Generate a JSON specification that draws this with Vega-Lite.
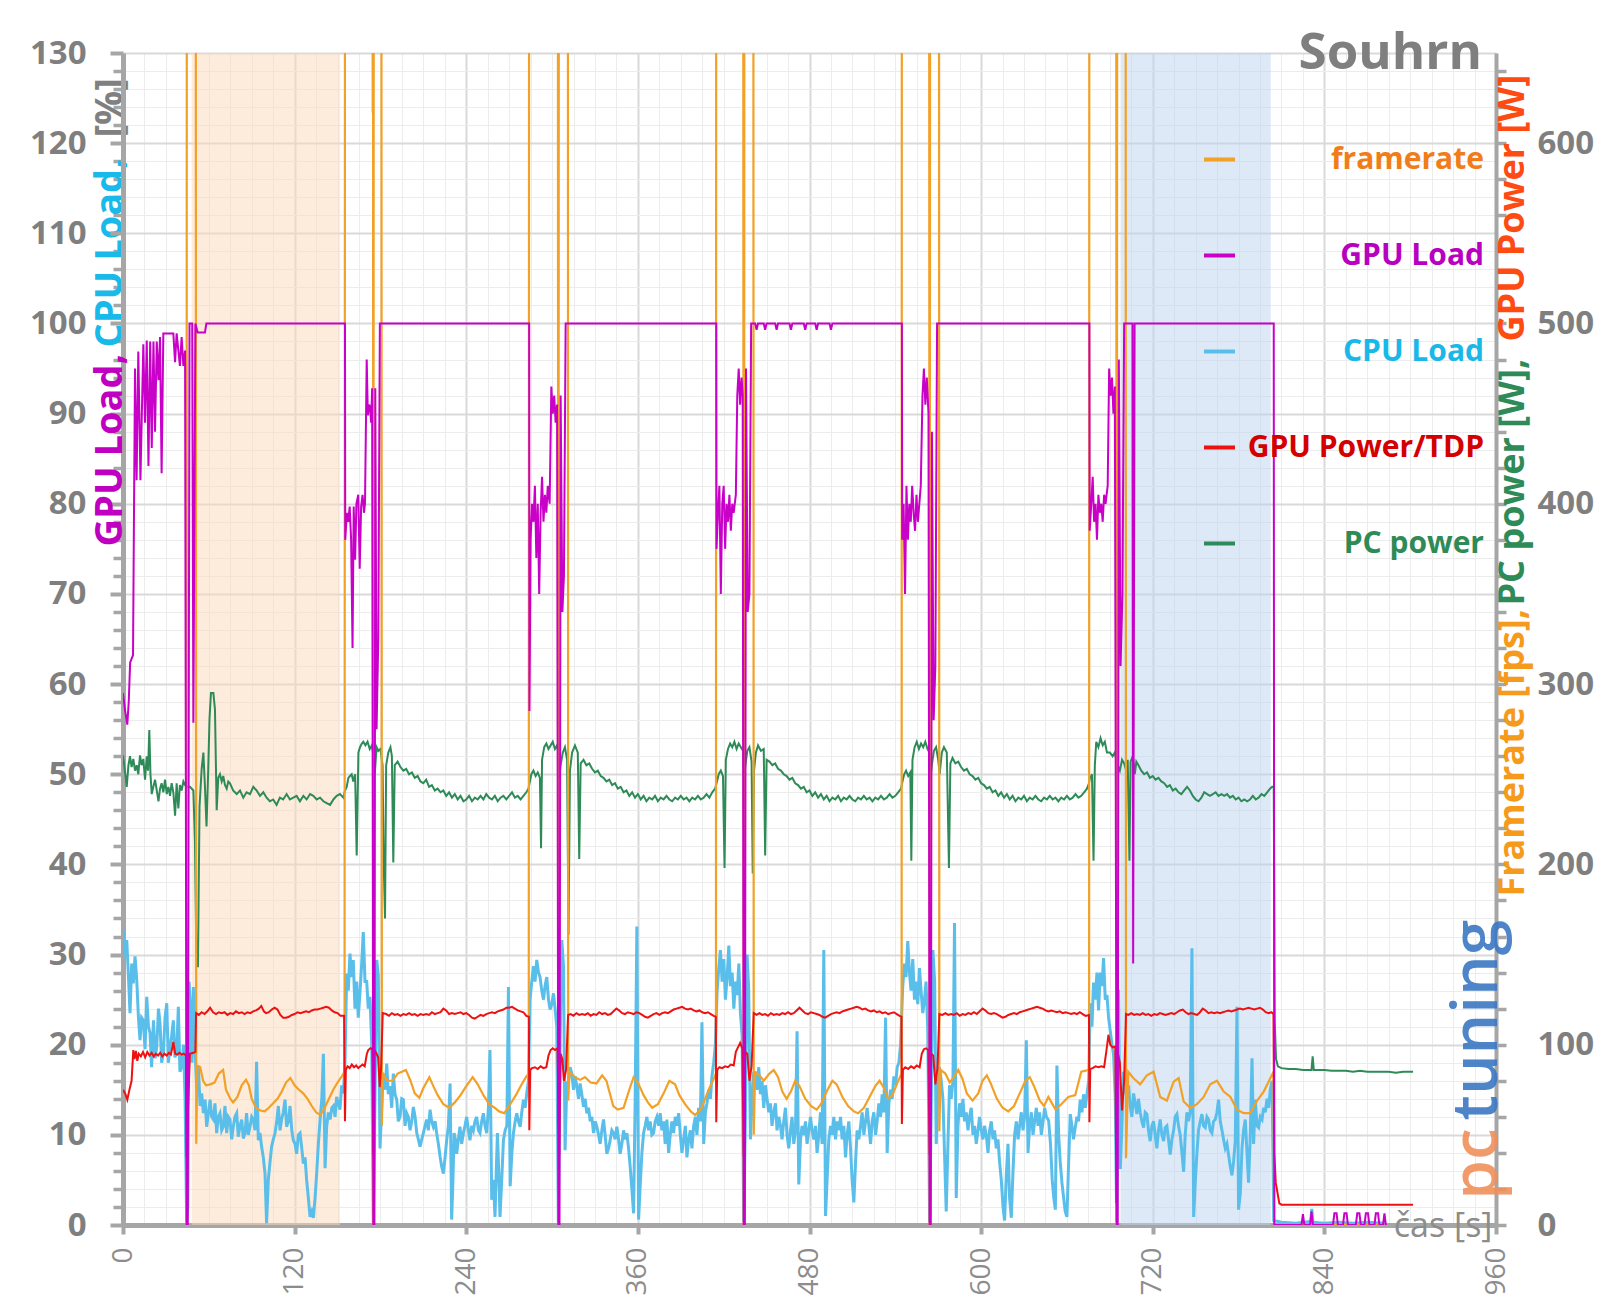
{
"$schema":"https://vega.github.io/schema/vega-lite/v6.json",
"width":1373,"height":1172,
"autosize":{"type":"none"},
"padding":{"left":123,"top":53,"right":104,"bottom":88},
"background":"white",
"config":{"view":{"stroke":null},"font":"Open Sans"},
"title":{"text":"Souhrn","anchor":"end","frame":"group","font":"Open Sans","fontSize":51,"fontWeight":"bold","color":"#7f7f7f","baseline":"alphabetic","offset":0,"dx":-14,"dy":83},
"datasets":{
"bands":[{"s":48,"e":151.7,"k":"o"},{"s":697.5,"e":802.5,"k":"b"}],
"gpu":[{"t":0,"v":59},{"t":1.5,"v":57},{"t":3,"v":55.5},{"t":4,"v":58},{"t":5,"v":62.4},{"t":7,"v":63.2},{"t":7.6,"v":77},{"t":8.4,"v":95},{"t":9.5,"v":82.6},{"t":10.7,"v":96.9},{"t":12.2,"v":82.6},{"t":14.2,"v":97.7},{"t":15.4,"v":89},{"t":16.6,"v":98.1},{"t":17.8,"v":84.2},{"t":19,"v":98},{"t":20.1,"v":86.2},{"t":21.3,"v":98},{"t":22.4,"v":88},{"t":23.6,"v":98},{"t":24.8,"v":93.7},{"t":25.9,"v":98.5},{"t":27,"v":83.4},{"t":28.2,"v":98.9},{"t":32.9,"v":98.9},{"t":35.2,"v":98.9},{"t":36.4,"v":95.7},{"t":37.5,"v":98.9},{"t":39.8,"v":95.3},{"t":41,"v":98.5},{"t":42.2,"v":95.3},{"t":43.4,"v":97},{"t":44.5,"v":0},{"t":45.3,"v":0},{"t":46.5,"v":100},{"t":48.4,"v":100},{"t":49.2,"v":55.7},{"t":50.6,"v":100},{"t":52.2,"v":99},{"t":57.3,"v":99},{"t":58.3,"v":100},
{"t":155.2,"v":100},{"t":155.4,"v":76},{"t":156.5,"v":79},{"t":157.5,"v":78},{"t":158.5,"v":79.7},{"t":159.5,"v":76},{"t":160.5,"v":64},{"t":161.3,"v":79.7},{"t":162.3,"v":73.8},{"t":163.2,"v":80},{"t":164.5,"v":81},{"t":165.5,"v":72.8},{"t":166.5,"v":79.7},{"t":167.5,"v":81},{"t":168.5,"v":79},{"t":169.2,"v":80},{"t":170.4,"v":96},{"t":171.2,"v":89.8},{"t":172.1,"v":91},{"t":172.7,"v":90.7},{"t":173.5,"v":89},{"t":174.2,"v":92.8},{"t":175,"v":0},{"t":175.8,"v":0},{"t":176.4,"v":92.8},{"t":177.3,"v":55},{"t":178.5,"v":65},{"t":179.6,"v":100},
{"t":284,"v":100},{"t":284.2,"v":57},{"t":285,"v":76},{"t":286,"v":80},{"t":287,"v":78},{"t":288,"v":82},{"t":289,"v":74},{"t":290,"v":80},{"t":291,"v":70},{"t":292,"v":79},{"t":293,"v":83},{"t":294,"v":78},{"t":295,"v":81},{"t":296,"v":79},{"t":297,"v":82},{"t":298.3,"v":80},{"t":299.5,"v":93},{"t":300.5,"v":90},{"t":301.5,"v":92},{"t":302.5,"v":89},{"t":303.5,"v":91},{"t":304.4,"v":0},{"t":305.2,"v":0},{"t":306,"v":92},{"t":307.2,"v":68},{"t":308.3,"v":72},{"t":309.5,"v":100},
{"t":414.8,"v":100},{"t":415,"v":75},{"t":416,"v":79},{"t":417,"v":82},{"t":418,"v":70},{"t":419,"v":80},{"t":420,"v":82},{"t":421,"v":75},{"t":422,"v":80},{"t":423,"v":78},{"t":424,"v":81},{"t":425,"v":77},{"t":426,"v":80},{"t":427,"v":79},{"t":428.5,"v":81},{"t":429.5,"v":92},{"t":430.5,"v":95},{"t":431.5,"v":91},{"t":432.5,"v":94},{"t":433.3,"v":92},{"t":434,"v":0},{"t":434.8,"v":0},{"t":435.6,"v":95},{"t":436.8,"v":68},{"t":438,"v":70},{"t":439.2,"v":100},{"t":442,"v":100},{"t":443,"v":99.3},{"t":444,"v":100},{"t":448,"v":100},{"t":449,"v":99.3},{"t":450,"v":100},{"t":456,"v":100},{"t":457,"v":99.3},{"t":458,"v":100},{"t":466,"v":100},{"t":467,"v":99.3},{"t":468,"v":100},{"t":476,"v":100},{"t":477,"v":99.3},{"t":478,"v":100},{"t":484,"v":100},{"t":485,"v":99.3},{"t":486,"v":100},{"t":494,"v":100},{"t":495,"v":99.3},{"t":496,"v":100},
{"t":544.6,"v":100},{"t":544.8,"v":76},{"t":545.8,"v":80},{"t":546.8,"v":70},{"t":547.8,"v":82},{"t":548.8,"v":76},{"t":549.8,"v":80},{"t":550.8,"v":78},{"t":551.8,"v":82},{"t":552.8,"v":79},{"t":553.8,"v":77},{"t":554.8,"v":81},{"t":555.8,"v":78},{"t":556.8,"v":80},{"t":557.8,"v":82},{"t":559,"v":92},{"t":560,"v":95},{"t":561,"v":91},{"t":562,"v":94},{"t":563.2,"v":90},{"t":564,"v":0},{"t":564.8,"v":0},{"t":565.6,"v":88},{"t":566.8,"v":56},{"t":568,"v":62},{"t":569.2,"v":100},
{"t":675.7,"v":100},{"t":675.9,"v":77},{"t":677,"v":80},{"t":678,"v":83},{"t":679,"v":78},{"t":680,"v":80},{"t":681,"v":76},{"t":682,"v":81},{"t":683,"v":79},{"t":684,"v":80},{"t":685,"v":78},{"t":686,"v":81},{"t":687,"v":80},{"t":688.5,"v":82},{"t":689.5,"v":95},{"t":690.5,"v":92},{"t":691.5,"v":94},{"t":692.5,"v":90},{"t":693.5,"v":93},{"t":694.8,"v":0},{"t":695.5,"v":0},{"t":696.3,"v":96},{"t":697.5,"v":62},{"t":698.8,"v":70},{"t":700,"v":100},{"t":705.8,"v":100},{"t":706.3,"v":29},{"t":707.3,"v":100},{"t":804.6,"v":100},{"t":805,"v":0},
{"t":824,"v":0},{"t":825,"v":1.2},{"t":826,"v":0},{"t":830,"v":0},{"t":831,"v":1.5},{"t":832,"v":0},{"t":846,"v":0},{"t":847,"v":1.3},{"t":848.5,"v":1.3},{"t":849.5,"v":0},{"t":853,"v":0},{"t":854,"v":1.3},{"t":855.5,"v":1.3},{"t":856.5,"v":0},{"t":862,"v":0},{"t":863,"v":1.3},{"t":864.5,"v":1.3},{"t":865.5,"v":0},{"t":868,"v":0},{"t":869,"v":1.3},{"t":870.5,"v":1.3},{"t":871.5,"v":0},{"t":875,"v":0},{"t":876,"v":1.3},{"t":877.5,"v":1.3},{"t":878.5,"v":0},{"t":881,"v":0},{"t":882,"v":1.3},{"t":883,"v":0}],
"cpu":[{"t":0,"v":32.7},{"t":1.4,"v":29.8},{"t":2.6,"v":31.6},{"t":3.7,"v":28},{"t":4.9,"v":23.5},{"t":6.1,"v":29},{"t":7.2,"v":26.8},{"t":8.4,"v":29.8},{"t":9.6,"v":27.2},{"t":10.8,"v":23},{"t":11.9,"v":20.5},{"t":13,"v":23},{"t":14.2,"v":22.7},{"t":15.4,"v":19.5},{"t":16.6,"v":25.3},{"t":17.8,"v":22},{"t":18.9,"v":21.3},{"t":20,"v":17.5},{"t":21.3,"v":22.7},{"t":22.5,"v":18.5},{"t":23.6,"v":19.8},{"t":24.8,"v":24},{"t":25.9,"v":22.4},{"t":27,"v":18},{"t":28.2,"v":19},{"t":29.4,"v":23},{"t":30.6,"v":24.6},{"t":31.7,"v":18},{"t":32.9,"v":19.8},{"t":34,"v":21},{"t":35.2,"v":22.7},{"t":36.3,"v":18.6},{"t":37.5,"v":19.1},{"t":38.7,"v":24.2},{"t":39.8,"v":17},{"t":41.1,"v":17.6},{"t":42.3,"v":20},{"t":43.4,"v":14},{"t":44.5,"v":0.5},{"t":45.3,"v":2},{"t":46.2,"v":27},{"t":47.2,"v":24},{"t":48.2,"v":18},{"t":49.2,"v":26.4},{"t":50.2,"v":20},{"t":51.5,"v":15.3},{"t":52.7,"v":17.6},{"t":53.9,"v":13.2},{"t":55,"v":14.6},{"t":56.2,"v":12.4},{"t":57.4,"v":13.9},{"t":58.5,"v":10.9},{"t":59.7,"v":12.4},{"t":60.9,"v":13.9},{"t":62,"v":12},{"t":63.2,"v":11.7},{"t":64.3,"v":13.5},{"t":65.5,"v":10.2},{"t":66.6,"v":12},{"t":67.8,"v":12.4},{"t":69,"v":10.5},{"t":70.1,"v":10.9},{"t":71.3,"v":13.2},{"t":72.5,"v":10.2},{"t":73.6,"v":12},{"t":74.8,"v":11.7},{"t":76,"v":9.5},{"t":77.1,"v":10.9},{"t":78.3,"v":12},{"t":79.5,"v":12.4},{"t":80.6,"v":9.8},{"t":81.8,"v":11},{"t":83,"v":11.7},{"t":84.1,"v":9.6},{"t":85.3,"v":10.2},{"t":86.4,"v":12.4},{"t":87.6,"v":10},{"t":88.8,"v":10.9},{"t":90,"v":12},{"t":91.1,"v":11.7},{"t":92.3,"v":10.5},{"t":93.4,"v":18.1},{"t":94.6,"v":9.4},{"t":95.8,"v":10.2},{"t":96.9,"v":8.7},{"t":98.1,"v":7.5},{"t":99.3,"v":5.7},{"t":100.4,"v":0.2},{"t":101.6,"v":5},{"t":102.8,"v":7},{"t":103.9,"v":8.7},{"t":105.1,"v":9.5},{"t":106.3,"v":10.2},{"t":107.5,"v":11.5},{"t":108.6,"v":13.2},{"t":109.8,"v":10.5},{"t":110.9,"v":11.7},{"t":112.1,"v":12.5},{"t":113.3,"v":13.9},{"t":114.4,"v":10.9},{"t":115.6,"v":11.5},{"t":116.8,"v":13.2},{"t":118,"v":10.5},{"t":119.1,"v":9.4},{"t":120.3,"v":9},{"t":121.4,"v":7.9},{"t":122.6,"v":10},{"t":123.8,"v":10.2},{"t":125,"v":8.5},{"t":126.1,"v":6.8},{"t":127.3,"v":7.5},{"t":128.4,"v":5},{"t":129.6,"v":3},{"t":130.8,"v":0.9},{"t":132,"v":1.5},{"t":133.1,"v":0.8},{"t":134.3,"v":3},{"t":135.4,"v":5.7},{"t":136.6,"v":9},{"t":137.8,"v":11.7},{"t":139,"v":14},{"t":140.1,"v":19},{"t":141.3,"v":6.3},{"t":142.4,"v":10.9},{"t":143.6,"v":12.5},{"t":144.8,"v":11.7},{"t":146,"v":13},{"t":147.1,"v":13.2},{"t":148.3,"v":12},{"t":149.4,"v":14.2},{"t":150.6,"v":13.5},{"t":151.7,"v":12.8},{"t":152.9,"v":15.5},{"t":154.1,"v":14.6},
{"t":155.2,"v":18},{"t":156.4,"v":27.9},{"t":157.5,"v":26},{"t":158.7,"v":30.1},{"t":159.8,"v":27.5},{"t":161,"v":29.4},{"t":162.2,"v":24},{"t":163.4,"v":27},{"t":164.5,"v":23},{"t":165.7,"v":25.8},{"t":166.9,"v":29},{"t":168,"v":32.5},{"t":169.2,"v":27},{"t":170.4,"v":27},{"t":171.5,"v":24},{"t":172.7,"v":25.3},{"t":173.9,"v":20},{"t":175,"v":0.3},{"t":176.2,"v":14},{"t":177.4,"v":29.4},{"t":178.5,"v":27.7},{"t":179.7,"v":8.5},{"t":180.9,"v":13},
{"t":182,"v":16.8},{"t":183.2,"v":15},{"t":184.4,"v":17.9},{"t":185.5,"v":14.5},{"t":186.7,"v":15.4},{"t":187.9,"v":13},{"t":189,"v":16.8},{"t":190.2,"v":14.5},{"t":191.4,"v":13.9},{"t":192.5,"v":11.5},{"t":193.7,"v":12},{"t":194.9,"v":14},{"t":196,"v":13.9},{"t":197.2,"v":11},{"t":198.4,"v":12.4},{"t":199.5,"v":12},{"t":200.7,"v":10.5},{"t":201.9,"v":11.5},{"t":203,"v":13.1},{"t":204.2,"v":12},{"t":205.4,"v":10.2},{"t":206.5,"v":9.5},{"t":207.7,"v":8.7},{"t":208.9,"v":9.5},{"t":210,"v":10.2},{"t":211.2,"v":11},{"t":212.3,"v":11.7},{"t":213.5,"v":10.5},{"t":214.7,"v":12.8},{"t":215.8,"v":11.5},{"t":217,"v":10.9},{"t":218.2,"v":11.5},{"t":219.3,"v":10.2},{"t":220.5,"v":9},{"t":221.7,"v":7.6},{"t":222.8,"v":6.5},{"t":224,"v":5.7},{"t":225.2,"v":7.5},{"t":226.3,"v":9.4},{"t":227.5,"v":11},{"t":228.7,"v":15.7},{"t":229.8,"v":0.6},{"t":230.7,"v":5},{"t":231.5,"v":10.2},{"t":232.4,"v":9.5},{"t":233.3,"v":7.9},{"t":234.5,"v":9.5},{"t":235.6,"v":10.9},{"t":236.8,"v":9},{"t":238,"v":10.2},{"t":239.1,"v":11},{"t":240.3,"v":12},{"t":241.5,"v":10.5},{"t":242.6,"v":9.4},{"t":243.8,"v":11},{"t":245,"v":10.5},{"t":246.1,"v":11.5},{"t":247.3,"v":12},{"t":248.5,"v":10.5},{"t":249.6,"v":10.2},{"t":250.8,"v":11.5},{"t":252,"v":12.4},{"t":253.1,"v":11},{"t":254.3,"v":10.2},{"t":255.5,"v":13},{"t":256.6,"v":19.4},{"t":257.8,"v":2.8},{"t":259,"v":5},{"t":260.1,"v":0.9},{"t":261,"v":6},{"t":261.8,"v":10.2},{"t":262.7,"v":6},{"t":263.6,"v":0.9},{"t":264.8,"v":5},{"t":266,"v":9.4},{"t":267.2,"v":10.5},{"t":268.4,"v":11},{"t":269.5,"v":26.4},{"t":270.7,"v":4.3},{"t":271.9,"v":8},{"t":273,"v":10.2},{"t":274.2,"v":11.5},{"t":275.3,"v":12.4},{"t":276.5,"v":11.5},{"t":277.7,"v":10.9},{"t":278.8,"v":12.5},{"t":280,"v":13.9},{"t":281.2,"v":13},{"t":282.3,"v":14.6},{"t":283.5,"v":16},
{"t":284.6,"v":25},{"t":285.8,"v":27},{"t":287,"v":28.7},{"t":288.1,"v":27},{"t":289.3,"v":29.4},{"t":290.5,"v":28},{"t":291.6,"v":27.5},{"t":292.8,"v":26},{"t":294,"v":25},{"t":295.1,"v":26.5},{"t":296.3,"v":27.5},{"t":297.5,"v":25},{"t":298.6,"v":23.9},{"t":299.8,"v":24.5},{"t":301,"v":25.7},{"t":302.1,"v":24},{"t":303.3,"v":22},{"t":304.4,"v":0.3},{"t":305.6,"v":20},{"t":306.8,"v":31.6},{"t":308,"v":28.7},{"t":309.1,"v":8.3},{"t":310.3,"v":15.7},
{"t":311.5,"v":16},{"t":312.6,"v":17.5},{"t":313.8,"v":16.8},{"t":315,"v":15},{"t":316.1,"v":16.5},{"t":317.3,"v":15.4},{"t":318.5,"v":14},{"t":319.6,"v":15.7},{"t":320.8,"v":14.5},{"t":322,"v":13.1},{"t":323.1,"v":14},{"t":324.3,"v":12.4},{"t":325.5,"v":13},{"t":326.7,"v":11.5},{"t":327.8,"v":12},{"t":329,"v":10.2},{"t":330.2,"v":11.5},{"t":331.3,"v":10.9},{"t":332.5,"v":10},{"t":333.6,"v":9},{"t":334.8,"v":10.5},{"t":336,"v":11.7},{"t":337.1,"v":10},{"t":338.3,"v":7.9},{"t":339.5,"v":8.5},{"t":340.6,"v":9.4},{"t":341.8,"v":10.5},{"t":343,"v":10.2},{"t":344.1,"v":9.5},{"t":345.3,"v":10.9},{"t":346.5,"v":9.5},{"t":347.6,"v":7.9},{"t":348.8,"v":9},{"t":350,"v":10.5},{"t":351.1,"v":9.5},{"t":352.3,"v":10.2},{"t":353.5,"v":8.5},{"t":354.6,"v":6.5},{"t":355.8,"v":4},{"t":357,"v":1.3},{"t":358.1,"v":13.9},{"t":359.3,"v":33.1},{"t":360.5,"v":0.6},{"t":361.6,"v":4.3},{"t":362.8,"v":8},{"t":364,"v":10.2},{"t":365.1,"v":11},{"t":366.3,"v":12},{"t":367.5,"v":10.5},{"t":368.6,"v":11.5},{"t":369.8,"v":10},{"t":371,"v":10.2},{"t":372.1,"v":11.5},{"t":373.3,"v":12},{"t":374.5,"v":11},{"t":375.6,"v":12.4},{"t":376.8,"v":10.5},{"t":378,"v":11.5},{"t":379.1,"v":9},{"t":380.3,"v":11.7},{"t":381.5,"v":8},{"t":382.6,"v":10},{"t":383.8,"v":11.5},{"t":385,"v":10.2},{"t":386.1,"v":12},{"t":387.3,"v":11},{"t":388.5,"v":12.4},{"t":389.7,"v":10},{"t":390.8,"v":8},{"t":392,"v":9.5},{"t":393.2,"v":11},{"t":394.3,"v":7.5},{"t":395.5,"v":9.5},{"t":396.7,"v":10.5},{"t":397.8,"v":8.5},{"t":399,"v":11},{"t":400.2,"v":12},{"t":401.3,"v":10},{"t":402.5,"v":13},{"t":403.7,"v":11.5},{"t":404.8,"v":22.5},{"t":406,"v":9},{"t":407.2,"v":12.5},{"t":408.3,"v":13.5},{"t":409.5,"v":15},{"t":410.7,"v":14},{"t":411.8,"v":16.5},{"t":413,"v":18},{"t":414.2,"v":20},
{"t":415.4,"v":26},{"t":416.6,"v":28.5},{"t":417.7,"v":30.5},{"t":418.9,"v":27},{"t":420.1,"v":29.5},{"t":421.2,"v":25},{"t":422.4,"v":27.5},{"t":423.6,"v":31},{"t":424.7,"v":26.5},{"t":425.9,"v":28},{"t":427.1,"v":24},{"t":428.2,"v":27},{"t":429.4,"v":25.5},{"t":430.6,"v":29},{"t":431.7,"v":23.5},{"t":432.9,"v":21},{"t":434,"v":0.3},{"t":435.2,"v":12},{"t":436.4,"v":30},{"t":437.5,"v":26},{"t":438.7,"v":9.5},{"t":439.9,"v":14},{"t":441,"v":17},
{"t":442.2,"v":16.5},{"t":443.3,"v":15},{"t":444.5,"v":17.5},{"t":445.7,"v":14.5},{"t":446.8,"v":16},{"t":448,"v":13},{"t":449.2,"v":15.5},{"t":450.3,"v":14},{"t":451.5,"v":12.5},{"t":452.7,"v":13.5},{"t":453.8,"v":11},{"t":455,"v":12.5},{"t":456.2,"v":13.5},{"t":457.3,"v":10.5},{"t":458.5,"v":12},{"t":459.7,"v":11},{"t":460.8,"v":9.5},{"t":462,"v":11.5},{"t":463.2,"v":13},{"t":464.3,"v":10},{"t":465.5,"v":8.5},{"t":466.7,"v":10.5},{"t":467.8,"v":12},{"t":469,"v":9},{"t":470.2,"v":10.5},{"t":471.3,"v":21.5},{"t":472.5,"v":4.5},{"t":473.7,"v":9.5},{"t":474.8,"v":11},{"t":476,"v":10},{"t":477.2,"v":11.5},{"t":478.3,"v":9},{"t":479.5,"v":10.5},{"t":480.7,"v":12},{"t":481.8,"v":10.5},{"t":483,"v":9.5},{"t":484.2,"v":11},{"t":485.3,"v":8},{"t":486.5,"v":10},{"t":487.7,"v":12.5},{"t":488.8,"v":9},{"t":490,"v":30.5},{"t":491.2,"v":1},{"t":492.3,"v":5},{"t":493.5,"v":9.5},{"t":494.7,"v":11},{"t":495.8,"v":10},{"t":497,"v":12},{"t":498.2,"v":9.5},{"t":499.3,"v":11.5},{"t":500.5,"v":10.5},{"t":501.7,"v":12},{"t":502.8,"v":9.5},{"t":504,"v":11},{"t":505.2,"v":7.5},{"t":506.3,"v":10},{"t":507.5,"v":11.5},{"t":508.7,"v":8.5},{"t":509.8,"v":5},{"t":511,"v":2.5},{"t":512.2,"v":7},{"t":513.3,"v":10.5},{"t":514.5,"v":9.5},{"t":515.7,"v":11},{"t":516.8,"v":12.5},{"t":518,"v":10},{"t":519.2,"v":11.5},{"t":520.3,"v":13},{"t":521.5,"v":11},{"t":522.7,"v":9},{"t":523.8,"v":11.5},{"t":525,"v":12.5},{"t":526.2,"v":10},{"t":527.3,"v":11.5},{"t":528.5,"v":13.5},{"t":529.7,"v":12},{"t":530.8,"v":14.5},{"t":532,"v":12.5},{"t":533.2,"v":23},{"t":534.3,"v":8},{"t":535.5,"v":13.5},{"t":536.7,"v":15},{"t":537.8,"v":14},{"t":539,"v":16.5},{"t":540.2,"v":15.5},{"t":541.3,"v":17.5},{"t":542.5,"v":18},{"t":543.7,"v":20},
{"t":545.2,"v":26.5},{"t":546.4,"v":29},{"t":547.5,"v":27.5},{"t":548.7,"v":31.5},{"t":549.9,"v":28},{"t":551,"v":26},{"t":552.2,"v":29.5},{"t":553.4,"v":25},{"t":554.5,"v":27},{"t":555.7,"v":24.5},{"t":556.9,"v":28.5},{"t":558,"v":26},{"t":559.2,"v":23.5},{"t":560.4,"v":25},{"t":561.5,"v":27},{"t":562.7,"v":21.5},{"t":564,"v":0.3},{"t":565.1,"v":13},{"t":566.3,"v":30.5},{"t":567.5,"v":27},{"t":568.6,"v":9},{"t":569.8,"v":15},{"t":570.9,"v":17.5},
{"t":572.1,"v":16},{"t":573.3,"v":14},{"t":574.4,"v":8},{"t":575.6,"v":1.5},{"t":576.8,"v":9},{"t":577.9,"v":15.5},{"t":579.1,"v":14},{"t":580.3,"v":16},{"t":581.4,"v":33.5},{"t":582.6,"v":3},{"t":583.8,"v":11},{"t":584.9,"v":13.5},{"t":586.1,"v":12},{"t":587.3,"v":14},{"t":588.4,"v":11.5},{"t":589.6,"v":12.5},{"t":590.8,"v":10.5},{"t":591.9,"v":12},{"t":593.1,"v":13},{"t":594.3,"v":10},{"t":595.4,"v":11},{"t":596.6,"v":9},{"t":597.8,"v":10.5},{"t":598.9,"v":12},{"t":600.1,"v":10.5},{"t":601.3,"v":9.5},{"t":602.4,"v":11},{"t":603.6,"v":10},{"t":604.8,"v":8},{"t":605.9,"v":10.5},{"t":607.1,"v":11.5},{"t":608.3,"v":9.5},{"t":609.4,"v":10.5},{"t":610.6,"v":8.5},{"t":611.8,"v":9.5},{"t":612.9,"v":7},{"t":614.1,"v":5},{"t":615.3,"v":2},{"t":616.4,"v":0.5},{"t":617.6,"v":5.5},{"t":618.8,"v":9},{"t":619.9,"v":3},{"t":621.1,"v":0.8},{"t":622.3,"v":6},{"t":623.4,"v":10},{"t":624.6,"v":11.5},{"t":625.8,"v":9.5},{"t":626.9,"v":11},{"t":628.1,"v":12.5},{"t":629.3,"v":10.5},{"t":630.4,"v":12},{"t":631.6,"v":20.5},{"t":632.8,"v":8},{"t":633.9,"v":11},{"t":635.1,"v":12.5},{"t":636.3,"v":10},{"t":637.4,"v":11.5},{"t":638.6,"v":13},{"t":639.8,"v":11},{"t":640.9,"v":12.5},{"t":642.1,"v":10},{"t":643.3,"v":11.5},{"t":644.4,"v":13},{"t":645.6,"v":12},{"t":647.2,"v":11.6},{"t":648.5,"v":9},{"t":649.7,"v":5},{"t":650.8,"v":3},{"t":651.9,"v":1.7},{"t":653,"v":17.7},{"t":654.2,"v":10},{"t":655.3,"v":7},{"t":656.5,"v":4.7},{"t":657.7,"v":3},{"t":658.8,"v":1.5},{"t":660,"v":0.9},{"t":661.2,"v":7},{"t":662.3,"v":12.3},{"t":663.5,"v":11},{"t":664.6,"v":9.5},{"t":665.8,"v":10.8},{"t":667,"v":12},{"t":668.1,"v":11.5},{"t":669.3,"v":13.9},{"t":670.5,"v":12.5},{"t":671.6,"v":14.5},{"t":672.8,"v":13},{"t":674,"v":14.5},{"t":675.2,"v":16},
{"t":676.3,"v":24.6},{"t":677.5,"v":22},{"t":678.6,"v":26.9},{"t":679.8,"v":25},{"t":681,"v":28},{"t":682.1,"v":23.8},{"t":683.3,"v":28},{"t":684.5,"v":26.5},{"t":685.6,"v":29.6},{"t":686.8,"v":25},{"t":688,"v":25.5},{"t":689.1,"v":23},{"t":690.3,"v":21.5},{"t":691.5,"v":20},{"t":692.6,"v":18.9},{"t":693.8,"v":14},{"t":694.8,"v":0.3},{"t":696.1,"v":26.1},{"t":697.3,"v":6.2},{"t":698.5,"v":11.2},{"t":699.6,"v":17},{"t":700.8,"v":15},{"t":701.9,"v":14.2},
{"t":703.1,"v":15.5},{"t":704.3,"v":13.1},{"t":705.4,"v":12},{"t":706.6,"v":14.6},{"t":707.7,"v":13.5},{"t":708.9,"v":12.3},{"t":710,"v":14},{"t":711.2,"v":12.5},{"t":712.4,"v":11.5},{"t":713.6,"v":10.8},{"t":714.7,"v":12.5},{"t":715.9,"v":12.3},{"t":717,"v":10.5},{"t":718.2,"v":9.3},{"t":719.4,"v":11},{"t":720.6,"v":11.5},{"t":721.7,"v":10},{"t":722.9,"v":8.5},{"t":724,"v":10.5},{"t":725.2,"v":11.7},{"t":726.4,"v":10},{"t":727.6,"v":9.3},{"t":728.7,"v":10.8},{"t":729.9,"v":11},{"t":731,"v":9.5},{"t":732.2,"v":7.8},{"t":733.4,"v":9.5},{"t":734.6,"v":10.5},{"t":735.7,"v":12},{"t":736.9,"v":12.3},{"t":738,"v":11},{"t":739.2,"v":10},{"t":740.4,"v":8},{"t":741.6,"v":5.9},{"t":742.7,"v":10},{"t":743.9,"v":12.5},{"t":745,"v":11.5},{"t":746.2,"v":12.5},{"t":747.4,"v":30.7},{"t":748.6,"v":0.9},{"t":749.7,"v":4.7},{"t":750.9,"v":8},{"t":752,"v":10.5},{"t":753.2,"v":11.5},{"t":754.4,"v":12.3},{"t":755.5,"v":11},{"t":756.7,"v":10.8},{"t":757.9,"v":12},{"t":759,"v":11.7},{"t":760.2,"v":10.5},{"t":761.4,"v":10.2},{"t":762.5,"v":11.5},{"t":763.7,"v":11.7},{"t":764.9,"v":12.5},{"t":766,"v":13.9},{"t":767.2,"v":11.5},{"t":768.4,"v":10.5},{"t":769.5,"v":9.5},{"t":770.7,"v":8.5},{"t":771.9,"v":9},{"t":773,"v":7.8},{"t":774.2,"v":6.5},{"t":775.4,"v":5.5},{"t":776.5,"v":7},{"t":777.7,"v":9.3},{"t":778.9,"v":24.2},{"t":780,"v":1.7},{"t":781.2,"v":3.5},{"t":782.4,"v":8.5},{"t":783.5,"v":10.5},{"t":784.7,"v":11.7},{"t":785.9,"v":8},{"t":787,"v":4.7},{"t":788.2,"v":10},{"t":789.4,"v":18.5},{"t":790.5,"v":9},{"t":791.7,"v":13.9},{"t":792.9,"v":11},{"t":794,"v":10.8},{"t":795.2,"v":12},{"t":796.4,"v":11.7},{"t":797.5,"v":13},{"t":798.7,"v":12.5},{"t":799.9,"v":14},{"t":801,"v":13},{"t":802.2,"v":15},{"t":803.4,"v":16},{"t":804.6,"v":0.5},{"t":810,"v":0.3},{"t":820,"v":0.2},{"t":830.5,"v":0.4},{"t":831.2,"v":1.8},{"t":832,"v":0.3},{"t":840,"v":0.2},{"t":850,"v":0.3},{"t":860,"v":0.2},{"t":870,"v":0.3},{"t":882,"v":0.2}],
"fps":[{"t":44.3,"v":0},{"t":44.7,"v":900},{"t":50.8,"v":900},{"t":51.2,"v":45},{"t":52,"v":88.5},{"t":54,"v":87.5},{"t":56,"v":80},{"t":58,"v":77.5},{"t":61,"v":78},{"t":64,"v":79},{"t":67,"v":84},{"t":70,"v":86},{"t":72,"v":75},{"t":75,"v":70},{"t":77,"v":68},{"t":80,"v":71},{"t":83,"v":77.5},{"t":86,"v":80.5},{"t":88,"v":77.5},{"t":90,"v":70},{"t":93,"v":65},{"t":96,"v":63.5},{"t":99,"v":63},{"t":102,"v":65},{"t":105,"v":67.5},{"t":108,"v":70},{"t":111,"v":74},{"t":114,"v":79},{"t":117,"v":81.5},{"t":120,"v":77.5},{"t":123,"v":75},{"t":126,"v":73},{"t":129,"v":70},{"t":132,"v":66},{"t":135,"v":62.5},{"t":138,"v":61},{"t":141,"v":65},{"t":144,"v":70},{"t":147,"v":75},{"t":150,"v":79},{"t":153,"v":82.5},{"t":154.9,"v":85},{"t":155.3,"v":900},{"t":174.2,"v":900},{"t":174.6,"v":617},{"t":174.8,"v":900},{"t":175,"v":0},{"t":175.4,"v":900},{"t":180.6,"v":900},{"t":181,"v":55},{"t":181.6,"v":84.5},{"t":183,"v":82},{"t":185,"v":80},{"t":188.5,"v":80},{"t":192,"v":84},{"t":195,"v":85},{"t":197.8,"v":86},{"t":201,"v":80},{"t":204,"v":73},{"t":207.2,"v":70.5},{"t":210,"v":76},{"t":214.2,"v":82},{"t":217,"v":77},{"t":220,"v":72},{"t":224,"v":67},{"t":228.1,"v":65},{"t":232,"v":68},{"t":236,"v":72},{"t":240,"v":77},{"t":244.5,"v":82},{"t":248,"v":78},{"t":252,"v":72},{"t":256.1,"v":67},{"t":260,"v":65},{"t":263,"v":63},{"t":266.6,"v":62},{"t":270,"v":66},{"t":274.7,"v":72},{"t":278,"v":77},{"t":281.7,"v":82},{"t":283.7,"v":84},{"t":284,"v":900},{"t":304,"v":900},{"t":304.4,"v":0},{"t":304.8,"v":900},{"t":311,"v":900},{"t":311.3,"v":69},{"t":312.2,"v":85},{"t":316,"v":82},{"t":319.6,"v":80.5},{"t":323,"v":82},{"t":327,"v":79},{"t":331,"v":78.5},{"t":335,"v":83},{"t":338,"v":80},{"t":342.8,"v":66},{"t":346,"v":64},{"t":350,"v":65},{"t":354,"v":75},{"t":357,"v":82},{"t":360,"v":79},{"t":364,"v":72},{"t":367,"v":68},{"t":370,"v":65},{"t":374,"v":67},{"t":378,"v":73},{"t":382,"v":80},{"t":386,"v":78},{"t":389,"v":72},{"t":393,"v":67},{"t":397,"v":63},{"t":400,"v":61},{"t":404,"v":64},{"t":407,"v":70},{"t":410,"v":76},{"t":413,"v":81},{"t":414.6,"v":84},{"t":414.8,"v":900},{"t":433.6,"v":900},{"t":434,"v":0},{"t":434.4,"v":900},{"t":440.7,"v":900},{"t":441,"v":50},{"t":442,"v":85},{"t":445,"v":83},{"t":448,"v":80},{"t":452,"v":84},{"t":455,"v":86},{"t":458,"v":82},{"t":461,"v":74},{"t":464,"v":70},{"t":467,"v":74},{"t":470,"v":80},{"t":473,"v":77},{"t":477,"v":70},{"t":481,"v":66},{"t":485,"v":64},{"t":488,"v":67},{"t":492,"v":74},{"t":496,"v":80},{"t":499,"v":78},{"t":503,"v":71},{"t":507,"v":66},{"t":511,"v":63},{"t":514,"v":62},{"t":518,"v":65},{"t":522,"v":71},{"t":526,"v":77},{"t":529,"v":80},{"t":532,"v":76},{"t":535,"v":70},{"t":538,"v":72},{"t":541,"v":78},{"t":544.4,"v":84},{"t":544.6,"v":900},{"t":563.6,"v":900},{"t":564,"v":0},{"t":564.4,"v":900},{"t":570.5,"v":900},{"t":570.8,"v":52},{"t":571.7,"v":86},{"t":575,"v":84},{"t":578,"v":79},{"t":581,"v":82},{"t":584,"v":86},{"t":587,"v":81},{"t":590,"v":73},{"t":594,"v":69},{"t":598,"v":73},{"t":601,"v":80},{"t":604,"v":83},{"t":607,"v":78},{"t":611,"v":70},{"t":615,"v":65},{"t":619,"v":63},{"t":623,"v":66},{"t":627,"v":73},{"t":631,"v":80},{"t":634,"v":82},{"t":637,"v":77},{"t":641,"v":69},{"t":644,"v":66},{"t":647,"v":71},{"t":652,"v":64},{"t":656,"v":67},{"t":661,"v":71},{"t":665.8,"v":72},{"t":670,"v":85},{"t":675.5,"v":86},{"t":675.7,"v":900},{"t":694.4,"v":900},{"t":694.8,"v":0},{"t":695.2,"v":900},{"t":701,"v":900},{"t":701.3,"v":37},{"t":702.9,"v":85},{"t":706.4,"v":81.5},{"t":711.2,"v":78},{"t":715.9,"v":83},{"t":720.6,"v":85},{"t":725.2,"v":71},{"t":729.9,"v":69},{"t":734.6,"v":79.5},{"t":738.1,"v":81.5},{"t":741.6,"v":68.5},{"t":746.2,"v":65},{"t":750.9,"v":67},{"t":755.6,"v":71},{"t":760.2,"v":78},{"t":764.9,"v":80},{"t":769.6,"v":74},{"t":774.3,"v":71},{"t":778.9,"v":64},{"t":783.6,"v":62},{"t":788.3,"v":62},{"t":793,"v":69},{"t":797.6,"v":74},{"t":802.3,"v":81.5},{"t":804.4,"v":85},{"t":804.9,"v":0},{"t":882,"v":0}],
"gw":[{"t":0,"v":75},{"t":1.5,"v":73},{"t":3,"v":69.5},{"t":4.5,"v":75},{"t":6,"v":80},{"t":7.2,"v":97},{"t":8,"v":92},{"t":9,"v":96.5},{"t":10,"v":91},{"t":11,"v":95},{"t":12.5,"v":93.5},{"t":14,"v":96},{"t":15.5,"v":93},{"t":17,"v":96},{"t":18.5,"v":94},{"t":20,"v":95.5},{"t":21.5,"v":93.5},{"t":23,"v":95},{"t":24.5,"v":94},{"t":26,"v":95.5},{"t":27.5,"v":93.5},{"t":29,"v":95},{"t":30.5,"v":94},{"t":32,"v":95.5},{"t":33.5,"v":94.5},{"t":35.2,"v":101.5},{"t":36.5,"v":95},{"t":38,"v":94.5},{"t":39.5,"v":95.5},{"t":41,"v":94.5},{"t":42.5,"v":95},{"t":44,"v":94},{"t":44.5,"v":37.5},{"t":45.3,"v":60},{"t":46.8,"v":95},{"t":49.2,"v":95.5},{"t":50.6,"v":96},{"t":51.1,"v":117.5},{"t":53,"v":116.5},{"t":55,"v":118},{"t":57,"v":117},{"t":59,"v":118.5},{"t":60.9,"v":120.5},{"t":63,"v":118},{"t":65,"v":117},{"t":67,"v":118},{"t":69,"v":117.5},{"t":71,"v":118},{"t":73,"v":116.5},{"t":75,"v":117.5},{"t":77,"v":117},{"t":79,"v":118.5},{"t":81,"v":117.5},{"t":83,"v":118},{"t":85,"v":117},{"t":87,"v":118},{"t":89,"v":117.5},{"t":91,"v":118.5},{"t":93,"v":119},{"t":95,"v":120},{"t":96.7,"v":121.5},{"t":98.5,"v":118.5},{"t":100,"v":117.5},{"t":102,"v":118},{"t":104,"v":119.5},{"t":106,"v":120.5},{"t":108,"v":119.5},{"t":110,"v":116.5},{"t":112,"v":115},{"t":114,"v":115},{"t":116,"v":115.5},{"t":118,"v":116.5},{"t":120,"v":117},{"t":122,"v":118},{"t":124,"v":117.5},{"t":126,"v":118},{"t":128,"v":118.5},{"t":130,"v":118},{"t":132,"v":119},{"t":134,"v":119.5},{"t":136,"v":119.5},{"t":138,"v":120},{"t":140,"v":120.5},{"t":142,"v":121},{"t":144,"v":120.5},{"t":146,"v":119},{"t":148,"v":118},{"t":150,"v":117.5},{"t":152,"v":116},{"t":154.6,"v":116},
{"t":155.2,"v":57.5},{"t":155.8,"v":86},{"t":157,"v":88},{"t":158.5,"v":87},{"t":160,"v":89},{"t":161.5,"v":87.5},{"t":163,"v":88.5},{"t":164.5,"v":87},{"t":166,"v":88},{"t":167.5,"v":89},{"t":169,"v":88},{"t":170.5,"v":95},{"t":171.5,"v":97},{"t":173,"v":98},{"t":174.3,"v":97.5},{"t":175,"v":39},{"t":175.8,"v":97},{"t":177,"v":95.5},{"t":178.4,"v":93},{"t":179.5,"v":76.5},{"t":180.5,"v":88},{"t":181.6,"v":117.5},
{"t":184,"v":117},{"t":186,"v":116},{"t":188,"v":117.5},{"t":190,"v":116.5},{"t":192,"v":117},{"t":194,"v":116},{"t":196,"v":117},{"t":198,"v":116.5},{"t":200,"v":117.5},{"t":202,"v":116.5},{"t":204,"v":117},{"t":206,"v":116},{"t":208,"v":117},{"t":210,"v":116.5},{"t":212,"v":117},{"t":214,"v":116.5},{"t":216,"v":118},{"t":218,"v":117},{"t":220,"v":117.5},{"t":222,"v":118},{"t":224,"v":120},{"t":226,"v":119},{"t":228,"v":117},{"t":230,"v":117.5},{"t":232,"v":117},{"t":234,"v":117.5},{"t":236,"v":118},{"t":238,"v":117},{"t":240,"v":117.5},{"t":242,"v":116.5},{"t":244,"v":115},{"t":246,"v":114.5},{"t":248,"v":115.5},{"t":250,"v":116.5},{"t":252,"v":116},{"t":254,"v":117},{"t":256,"v":117.5},{"t":258,"v":118},{"t":260,"v":117.5},{"t":262,"v":118.5},{"t":264,"v":119},{"t":266,"v":119.5},{"t":268,"v":120.5},{"t":270,"v":120.5},{"t":272,"v":121},{"t":274,"v":120},{"t":276,"v":119},{"t":278,"v":118.5},{"t":280,"v":118},{"t":282,"v":116},{"t":283.8,"v":115.5},
{"t":284.1,"v":52.5},{"t":284.7,"v":86},{"t":286,"v":87},{"t":288,"v":87.5},{"t":290,"v":86.5},{"t":292,"v":88},{"t":294,"v":87},{"t":296,"v":87.5},{"t":297.5,"v":94},{"t":299,"v":97},{"t":300.5,"v":98},{"t":302,"v":97},{"t":303.8,"v":98},{"t":305,"v":39},{"t":306,"v":95},{"t":307.2,"v":92},{"t":308.3,"v":80},{"t":309.8,"v":86},{"t":311.2,"v":116.5},
{"t":313,"v":117},{"t":315,"v":116},{"t":317,"v":117.5},{"t":319,"v":116.5},{"t":321,"v":117},{"t":323,"v":116.5},{"t":325,"v":117.5},{"t":327,"v":116},{"t":329,"v":117},{"t":331,"v":116.5},{"t":333,"v":118},{"t":335,"v":117},{"t":337,"v":117.5},{"t":339,"v":116.5},{"t":341,"v":117},{"t":343,"v":118.5},{"t":345,"v":120},{"t":347,"v":119},{"t":349,"v":117.5},{"t":351,"v":117},{"t":353,"v":118},{"t":355,"v":117.5},{"t":357,"v":117},{"t":359,"v":118},{"t":361,"v":117.5},{"t":363,"v":116.5},{"t":365,"v":115.5},{"t":367,"v":115},{"t":369,"v":116},{"t":371,"v":117},{"t":373,"v":117.5},{"t":375,"v":116.5},{"t":377,"v":117.5},{"t":379,"v":118},{"t":381,"v":117.5},{"t":383,"v":118.5},{"t":385,"v":119.5},{"t":387,"v":120},{"t":389,"v":120.5},{"t":391,"v":121},{"t":393,"v":120},{"t":395,"v":119.5},{"t":397,"v":120},{"t":399,"v":119},{"t":401,"v":118.5},{"t":403,"v":119},{"t":405,"v":118},{"t":407,"v":117.5},{"t":409,"v":118},{"t":411,"v":117},{"t":413,"v":116},{"t":414.5,"v":115.5},
{"t":414.8,"v":57},{"t":415.5,"v":86},{"t":417,"v":87.5},{"t":419,"v":87},{"t":421,"v":88},{"t":423,"v":87.5},{"t":425,"v":89},{"t":427,"v":88.5},{"t":428.5,"v":96},{"t":430,"v":98.5},{"t":431.5,"v":101},{"t":433,"v":98},{"t":434,"v":38},{"t":435,"v":96},{"t":436.5,"v":95},{"t":438,"v":80},{"t":439.5,"v":88},{"t":441,"v":117.5},
{"t":443,"v":116.5},{"t":445,"v":117.5},{"t":447,"v":116.5},{"t":449,"v":117},{"t":451,"v":116},{"t":453,"v":117.5},{"t":455,"v":116.5},{"t":457,"v":117},{"t":459,"v":116.5},{"t":461,"v":117.5},{"t":463,"v":117},{"t":465,"v":118},{"t":467,"v":117},{"t":469,"v":117.5},{"t":471,"v":119},{"t":473,"v":120.5},{"t":475,"v":119},{"t":477,"v":117.5},{"t":479,"v":117},{"t":481,"v":118},{"t":483,"v":117.5},{"t":485,"v":117},{"t":487,"v":116.5},{"t":489,"v":115.5},{"t":491,"v":115},{"t":493,"v":116},{"t":495,"v":117},{"t":497,"v":117.5},{"t":499,"v":118},{"t":501,"v":117.5},{"t":503,"v":118.5},{"t":505,"v":119},{"t":507,"v":119.5},{"t":509,"v":120},{"t":511,"v":120.5},{"t":513,"v":121},{"t":515,"v":120.5},{"t":517,"v":119.5},{"t":519,"v":120},{"t":521,"v":119},{"t":523,"v":118.5},{"t":525,"v":119},{"t":527,"v":118},{"t":529,"v":118.5},{"t":531,"v":117.5},{"t":533,"v":118},{"t":535,"v":117},{"t":537,"v":117.5},{"t":539,"v":118},{"t":541,"v":117},{"t":543,"v":116},{"t":544.3,"v":115.5},
{"t":544.6,"v":56},{"t":545.3,"v":86},{"t":547,"v":87.5},{"t":549,"v":86.5},{"t":551,"v":88},{"t":553,"v":87},{"t":555,"v":88.5},{"t":557,"v":87.5},{"t":558.5,"v":95},{"t":560,"v":97.5},{"t":561.5,"v":98},{"t":563,"v":97},{"t":564,"v":39},{"t":565,"v":95},{"t":566.5,"v":94},{"t":568,"v":78},{"t":569.5,"v":87},{"t":570.8,"v":117},
{"t":573,"v":116.5},{"t":575,"v":117.5},{"t":577,"v":116.5},{"t":579,"v":117},{"t":581,"v":116.5},{"t":583,"v":117.5},{"t":585,"v":116},{"t":587,"v":117},{"t":589,"v":116.5},{"t":591,"v":117.5},{"t":593,"v":117},{"t":595,"v":118},{"t":597,"v":117},{"t":599,"v":118.5},{"t":601,"v":120},{"t":603,"v":119},{"t":605,"v":117.5},{"t":607,"v":117},{"t":609,"v":117.5},{"t":611,"v":117},{"t":613,"v":116},{"t":615,"v":115},{"t":617,"v":115.5},{"t":619,"v":116.5},{"t":621,"v":117},{"t":623,"v":117.5},{"t":625,"v":117},{"t":627,"v":118},{"t":629,"v":118.5},{"t":631,"v":119},{"t":633,"v":119.5},{"t":635,"v":120},{"t":637,"v":120.5},{"t":639,"v":121},{"t":641,"v":120.5},{"t":643,"v":120},{"t":645,"v":119},{"t":647,"v":118.5},{"t":649,"v":119},{"t":651,"v":118.5},{"t":653,"v":118},{"t":655,"v":118.5},{"t":657,"v":117.5},{"t":659,"v":118},{"t":661,"v":117.5},{"t":663,"v":117},{"t":665,"v":117.5},{"t":667,"v":117},{"t":669,"v":118},{"t":671,"v":117},{"t":673,"v":116},{"t":675.4,"v":116.5},
{"t":675.7,"v":57},{"t":676.3,"v":86.5},{"t":678,"v":87},{"t":680,"v":88},{"t":682,"v":87.5},{"t":684,"v":88},{"t":686,"v":87.5},{"t":687.5,"v":96},{"t":689,"v":105.5},{"t":690.3,"v":100},{"t":692,"v":98.5},{"t":693.8,"v":99},{"t":694.6,"v":12},{"t":695.2,"v":97},{"t":697,"v":90},{"t":698.5,"v":63.5},{"t":700,"v":80},{"t":701.3,"v":117},
{"t":703,"v":116.5},{"t":705,"v":117.5},{"t":707,"v":116.5},{"t":709,"v":117},{"t":711,"v":116.5},{"t":713,"v":117.5},{"t":715,"v":116.5},{"t":717,"v":117},{"t":719,"v":116},{"t":721,"v":117},{"t":723,"v":116.5},{"t":725,"v":117.5},{"t":727,"v":117},{"t":729,"v":116.5},{"t":731,"v":117},{"t":733,"v":117.5},{"t":735,"v":117},{"t":737,"v":118},{"t":739,"v":119},{"t":741,"v":119.5},{"t":743,"v":118},{"t":745,"v":117},{"t":747,"v":117.5},{"t":749,"v":117},{"t":751,"v":116.5},{"t":753,"v":118},{"t":755,"v":120},{"t":757,"v":119},{"t":759,"v":117.5},{"t":761,"v":118},{"t":763,"v":117.5},{"t":765,"v":118},{"t":767,"v":117.5},{"t":769,"v":118},{"t":771,"v":118.5},{"t":773,"v":119},{"t":775,"v":118.5},{"t":777,"v":119},{"t":779,"v":119.5},{"t":781,"v":120},{"t":783,"v":119.5},{"t":785,"v":120},{"t":787,"v":120.5},{"t":789,"v":120},{"t":791,"v":119.5},{"t":793,"v":120},{"t":795,"v":120.5},{"t":797,"v":119.5},{"t":799,"v":118},{"t":801,"v":117.5},{"t":803,"v":118},{"t":804.4,"v":117},{"t":805,"v":40},{"t":806,"v":23.5},{"t":807.3,"v":17.5},{"t":808.5,"v":12},{"t":810,"v":11.3},{"t":902,"v":11.3}],
"pw":[{"t":0,"v":260.5},{"t":1.3,"v":252},{"t":2.6,"v":243},{"t":3.8,"v":255},{"t":4.9,"v":260},{"t":6,"v":254},{"t":7.2,"v":258.5},{"t":8.4,"v":252},{"t":9.6,"v":255},{"t":10.7,"v":250},{"t":11.9,"v":260.5},{"t":13,"v":255},{"t":14.2,"v":258.5},{"t":15.4,"v":247},{"t":16.6,"v":260},{"t":17.5,"v":252},{"t":18.4,"v":274.5},{"t":19.2,"v":250},{"t":20.1,"v":239},{"t":21.2,"v":243},{"t":22.4,"v":247},{"t":23.6,"v":241},{"t":24.8,"v":235},{"t":25.9,"v":242},{"t":27,"v":245},{"t":28.2,"v":240},{"t":29.4,"v":247},{"t":30.6,"v":239},{"t":31.7,"v":243},{"t":32.9,"v":238},{"t":34,"v":245},{"t":35.2,"v":240},{"t":36.4,"v":227},{"t":37.5,"v":245},{"t":38.7,"v":231},{"t":39.8,"v":244},{"t":41,"v":241},{"t":42.2,"v":246},{"t":43.4,"v":244},{"t":44.5,"v":243},{"t":46.8,"v":243},{"t":49.2,"v":241},{"t":50.3,"v":213},{"t":51.3,"v":150},{"t":52.4,"v":143},{"t":53.5,"v":232},{"t":55,"v":253},{"t":56.2,"v":262},{"t":57.3,"v":243},{"t":58.4,"v":221},{"t":59.5,"v":250},{"t":60.5,"v":281},{"t":61.5,"v":295},{"t":63.2,"v":295},{"t":64.3,"v":286},{"t":65.5,"v":230},{"t":66.6,"v":248},{"t":67.8,"v":250},{"t":69,"v":246},{"t":70.1,"v":249},{"t":71.3,"v":244},{"t":72.5,"v":242},{"t":73.6,"v":246},{"t":74.8,"v":245},{"t":77,"v":241},{"t":79.5,"v":239},{"t":81.8,"v":241},{"t":84.1,"v":237},{"t":86.4,"v":240},{"t":88.8,"v":239},{"t":91.1,"v":243},{"t":93.4,"v":241},{"t":95.8,"v":238},{"t":98.1,"v":240},{"t":100.4,"v":237},{"t":102.7,"v":235},{"t":105,"v":236},{"t":107.4,"v":233},{"t":109.7,"v":237},{"t":112,"v":236},{"t":114.4,"v":239},{"t":116.7,"v":236},{"t":119.1,"v":237},{"t":121.4,"v":238},{"t":123.7,"v":235},{"t":126.1,"v":238},{"t":128.4,"v":236},{"t":130.8,"v":239},{"t":133.1,"v":238},{"t":135.4,"v":236},{"t":137.8,"v":237},{"t":140.1,"v":235},{"t":142.4,"v":234},{"t":144.8,"v":233},{"t":147.1,"v":236},{"t":149.4,"v":238},{"t":151.7,"v":239},{"t":154.1,"v":237},
{"t":155.2,"v":241},{"t":156.4,"v":243},{"t":157.6,"v":248},{"t":158.7,"v":249},{"t":159.9,"v":250},{"t":161,"v":246},{"t":162.3,"v":250},{"t":163.4,"v":205},{"t":164.6,"v":262},{"t":165.7,"v":265},{"t":167,"v":267},{"t":168,"v":268},{"t":169.5,"v":266},{"t":171,"v":268},{"t":172.5,"v":264},{"t":174,"v":266},{"t":174.8,"v":262},{"t":175.5,"v":250},{"t":176.2,"v":252},{"t":177.3,"v":265},{"t":178.5,"v":263},{"t":180,"v":264},{"t":181.5,"v":255},{"t":182.3,"v":200},{"t":183.2,"v":170},{"t":184,"v":255},{"t":185.5,"v":262},{"t":187,"v":265},{"t":188,"v":260},{"t":189,"v":201},{"t":190,"v":255},{"t":192,"v":257},{"t":194,"v":254},{"t":196,"v":252},{"t":198,"v":253},{"t":200,"v":250},{"t":202,"v":251},{"t":204,"v":248},{"t":206,"v":249},{"t":208,"v":246},{"t":210,"v":245},{"t":212,"v":247},{"t":214,"v":243},{"t":216,"v":244},{"t":218,"v":241},{"t":220,"v":242},{"t":222,"v":240},{"t":224,"v":241},{"t":226,"v":238},{"t":228,"v":240},{"t":230,"v":237},{"t":232,"v":239},{"t":234,"v":236},{"t":236,"v":238},{"t":238,"v":235},{"t":240,"v":236},{"t":242,"v":238},{"t":244,"v":235},{"t":246,"v":237},{"t":248,"v":236},{"t":250,"v":238},{"t":252,"v":236},{"t":254,"v":239},{"t":256,"v":237},{"t":258,"v":236},{"t":260,"v":238},{"t":262,"v":235},{"t":264,"v":237},{"t":266,"v":238},{"t":268,"v":236},{"t":270,"v":238},{"t":272,"v":240},{"t":274,"v":237},{"t":276,"v":238},{"t":278,"v":236},{"t":280,"v":238},{"t":282,"v":240},{"t":283.5,"v":242},
{"t":284.5,"v":246},{"t":285.5,"v":250},{"t":287,"v":252},{"t":288.5,"v":249},{"t":290,"v":251},{"t":291.5,"v":248},{"t":292.3,"v":209},{"t":293,"v":258},{"t":294.5,"v":265},{"t":296,"v":267},{"t":297.5,"v":264},{"t":299,"v":266},{"t":300.5,"v":268},{"t":302,"v":264},{"t":303.5,"v":266},{"t":304.4,"v":262},{"t":305,"v":248},{"t":306,"v":255},{"t":307.5,"v":262},{"t":309,"v":265},{"t":310.5,"v":258},{"t":311.5,"v":161},{"t":312.5,"v":252},{"t":314,"v":262},{"t":316,"v":266},{"t":318,"v":262},{"t":319,"v":203},{"t":320,"v":256},{"t":322,"v":258},{"t":324,"v":255},{"t":326,"v":256},{"t":328,"v":253},{"t":330,"v":251},{"t":332,"v":252},{"t":334,"v":249},{"t":336,"v":248},{"t":338,"v":246},{"t":340,"v":247},{"t":342,"v":244},{"t":344,"v":245},{"t":346,"v":242},{"t":348,"v":243},{"t":350,"v":240},{"t":352,"v":241},{"t":354,"v":238},{"t":356,"v":240},{"t":358,"v":237},{"t":360,"v":239},{"t":362,"v":236},{"t":364,"v":238},{"t":366,"v":235},{"t":368,"v":237},{"t":370,"v":236},{"t":372,"v":238},{"t":374,"v":235},{"t":376,"v":237},{"t":378,"v":236},{"t":380,"v":238},{"t":382,"v":236},{"t":384,"v":235},{"t":386,"v":237},{"t":388,"v":236},{"t":390,"v":238},{"t":392,"v":236},{"t":394,"v":237},{"t":396,"v":235},{"t":398,"v":237},{"t":400,"v":236},{"t":402,"v":238},{"t":404,"v":236},{"t":406,"v":237},{"t":408,"v":239},{"t":410,"v":237},{"t":412,"v":240},{"t":414,"v":242},
{"t":415.3,"v":246},{"t":416.5,"v":250},{"t":418,"v":252},{"t":419.5,"v":249},{"t":420.6,"v":198},{"t":421.5,"v":258},{"t":423,"v":264},{"t":424.5,"v":267},{"t":426,"v":265},{"t":427.5,"v":268},{"t":429,"v":264},{"t":430.5,"v":267},{"t":432,"v":265},{"t":433.5,"v":263},{"t":434.2,"v":248},{"t":435,"v":254},{"t":436.5,"v":263},{"t":438,"v":265},{"t":439.5,"v":257},{"t":440.3,"v":195},{"t":441.2,"v":252},{"t":442.5,"v":262},{"t":444,"v":266},{"t":446,"v":263},{"t":448,"v":264},{"t":449,"v":205},{"t":450,"v":258},{"t":452,"v":257},{"t":454,"v":255},{"t":456,"v":256},{"t":458,"v":253},{"t":460,"v":252},{"t":462,"v":250},{"t":464,"v":249},{"t":466,"v":247},{"t":468,"v":248},{"t":470,"v":245},{"t":472,"v":244},{"t":474,"v":242},{"t":476,"v":243},{"t":478,"v":240},{"t":480,"v":241},{"t":482,"v":238},{"t":484,"v":240},{"t":486,"v":237},{"t":488,"v":239},{"t":490,"v":236},{"t":492,"v":238},{"t":494,"v":235},{"t":496,"v":237},{"t":498,"v":236},{"t":500,"v":238},{"t":502,"v":235},{"t":504,"v":237},{"t":506,"v":236},{"t":508,"v":238},{"t":510,"v":236},{"t":512,"v":235},{"t":514,"v":237},{"t":516,"v":236},{"t":518,"v":238},{"t":520,"v":236},{"t":522,"v":237},{"t":524,"v":235},{"t":526,"v":237},{"t":528,"v":236},{"t":530,"v":238},{"t":532,"v":236},{"t":534,"v":237},{"t":536,"v":239},{"t":538,"v":237},{"t":540,"v":238},{"t":542,"v":240},{"t":544,"v":242},
{"t":545,"v":246},{"t":546.2,"v":250},{"t":547.5,"v":252},{"t":549,"v":249},{"t":550.5,"v":251},{"t":551.2,"v":202},{"t":552,"v":258},{"t":553.5,"v":265},{"t":555,"v":268},{"t":556.5,"v":264},{"t":558,"v":267},{"t":559.5,"v":265},{"t":561,"v":268},{"t":562.5,"v":264},{"t":563.8,"v":262},{"t":564.5,"v":247},{"t":565.5,"v":255},{"t":567,"v":263},{"t":568.5,"v":265},{"t":570,"v":258},{"t":571,"v":250},{"t":572.5,"v":262},{"t":574,"v":265},{"t":576,"v":262},{"t":577.5,"v":198},{"t":578.5,"v":256},{"t":580,"v":259},{"t":582,"v":256},{"t":584,"v":257},{"t":586,"v":254},{"t":588,"v":252},{"t":590,"v":253},{"t":592,"v":250},{"t":594,"v":249},{"t":596,"v":247},{"t":598,"v":248},{"t":600,"v":245},{"t":602,"v":244},{"t":604,"v":242},{"t":606,"v":243},{"t":608,"v":240},{"t":610,"v":241},{"t":612,"v":238},{"t":614,"v":240},{"t":616,"v":237},{"t":618,"v":239},{"t":620,"v":236},{"t":622,"v":238},{"t":624,"v":235},{"t":626,"v":237},{"t":628,"v":236},{"t":630,"v":238},{"t":632,"v":235},{"t":634,"v":237},{"t":636,"v":236},{"t":638,"v":238},{"t":640,"v":236},{"t":642,"v":235},{"t":644,"v":237},{"t":646,"v":236},{"t":648,"v":238},{"t":650,"v":236},{"t":652,"v":237},{"t":654,"v":235},{"t":656,"v":237},{"t":658,"v":236},{"t":660,"v":238},{"t":662,"v":236},{"t":664,"v":237},{"t":666,"v":239},{"t":668,"v":237},{"t":670,"v":238},{"t":672,"v":240},{"t":674,"v":242},{"t":675.4,"v":245},
{"t":676,"v":247.5},{"t":677.5,"v":250},{"t":678.6,"v":202},{"t":679.5,"v":255},{"t":680.5,"v":268},{"t":682,"v":265},{"t":683.5,"v":270},{"t":685,"v":266},{"t":686.5,"v":268},{"t":688,"v":262},{"t":690,"v":262},{"t":692,"v":260},{"t":693.5,"v":262},{"t":694.5,"v":258},{"t":695.5,"v":255},{"t":697,"v":252},{"t":698.5,"v":258},{"t":700,"v":256},{"t":701.5,"v":252},{"t":702.5,"v":258},{"t":703.7,"v":202},{"t":704.5,"v":257},{"t":706,"v":260},{"t":707.5,"v":250},{"t":708.5,"v":257},{"t":710,"v":255},{"t":712,"v":252},{"t":714,"v":250},{"t":716,"v":251},{"t":718,"v":248},{"t":720,"v":249},{"t":722,"v":247},{"t":724,"v":248},{"t":726,"v":246},{"t":728,"v":245},{"t":730,"v":243},{"t":732,"v":244},{"t":734,"v":241},{"t":736,"v":242},{"t":738,"v":240},{"t":740,"v":239},{"t":742,"v":241},{"t":744,"v":243},{"t":746,"v":241},{"t":748,"v":238},{"t":750,"v":236},{"t":752,"v":235},{"t":754,"v":237},{"t":756,"v":240},{"t":758,"v":239},{"t":760,"v":238},{"t":762,"v":239},{"t":764,"v":240},{"t":766,"v":238},{"t":768,"v":239},{"t":770,"v":238},{"t":772,"v":239},{"t":774,"v":237},{"t":776,"v":238},{"t":778,"v":236},{"t":780,"v":237},{"t":782,"v":235},{"t":784,"v":236},{"t":786,"v":235},{"t":788,"v":236},{"t":790,"v":238},{"t":792,"v":236},{"t":794,"v":237},{"t":796,"v":239},{"t":798,"v":238},{"t":800,"v":240},{"t":802,"v":242},{"t":803.5,"v":243},{"t":804.6,"v":243},{"t":805.3,"v":113},{"t":806.2,"v":92},{"t":807.5,"v":88},{"t":810,"v":87},{"t":815,"v":86.5},{"t":820,"v":86.5},{"t":825,"v":86},{"t":831,"v":86},{"t":831.8,"v":93.5},{"t":832.6,"v":86},{"t":840,"v":86},{"t":845,"v":85.5},{"t":850,"v":85.5},{"t":855,"v":85.5},{"t":860,"v":85},{"t":865,"v":85.5},{"t":870,"v":85},{"t":875,"v":85},{"t":880,"v":85},{"t":885,"v":85},{"t":890,"v":84.5},{"t":895,"v":85},{"t":902,"v":85}],
"logo":[{"part":"pc"},{"part":"tuning"}]
},
"resolve":{"scale":{"y":"independent"},"axis":{"x":"independent","y":"independent"}},
"layer":[
{"data":{"name":"bands"},
"mark":{"type":"rect","opacity":0.5},
"encoding":{
"x":{"field":"s","type":"quantitative","scale":{"domain":[0,960],"nice":false,"zero":false},
"axis":{"orient":"bottom","values":[15,30,45,60,75,90,105,135,150,165,180,195,210,225,255,270,285,300,315,330,345,375,390,405,420,435,450,465,495,510,525,540,555,570,585,615,630,645,660,675,690,705,735,750,765,780,795,810,825,855,870,885,900,915,930,945],"labels":false,"ticks":false,"domain":false,"grid":true,"gridColor":"#ececec","gridWidth":1,"title":null}},
"x2":{"field":"e"},
"y":{"datum":0,"type":"quantitative","scale":{"domain":[0,130],"nice":false,"zero":false},
"axis":{"orient":"left","values":[2,4,6,8,12,14,16,18,22,24,26,28,32,34,36,38,42,44,46,48,52,54,56,58,62,64,66,68,72,74,76,78,82,84,86,88,92,94,96,98,102,104,106,108,112,114,116,118,122,124,126,128],"labels":false,"tickSize":10,"tickWidth":3.5,"tickColor":"#a6a6a6","domain":false,"grid":true,"gridColor":"#ececec","gridWidth":1,
"title":"[%]","titleColor":"#808080","titleFont":"Open Sans","titleFontSize":38,"titleFontWeight":"bold","titleAngle":-90,"titleAlign":"left","titleBaseline":"alphabetic","titleX":-2,"titleY":84}},
"y2":{"datum":130},
"fill":{"field":"k","type":"nominal","scale":{"domain":["o","b"],"range":["#fbd7b9","#bbd3ef"]},"legend":null}}},
{"data":{"name":"cpu"},
"mark":{"type":"line","clip":true,"strokeWidth":3},
"encoding":{
"x":{"field":"t","type":"quantitative","scale":{"domain":[0,960],"nice":false,"zero":false},"axis":null},
"y":{"field":"v","type":"quantitative","scale":{"domain":[0,130],"nice":false,"zero":false},
"axis":{"orient":"left","labels":false,"ticks":false,"domain":false,"grid":false,"title":"CPU Load,","titleColor":"#19b9ea","titleFont":"Open Sans","titleFontSize":38,"titleFontWeight":"bold","titleAngle":-90,"titleAlign":"left","titleBaseline":"alphabetic","titleX":-2,"titleY":294}},
"color":{"datum":"CPU Load","type":"nominal",
"scale":{"domain":["framerate","GPU Load","CPU Load","GPU Power/TDP","PC power"],"range":["#f2a026","#c800c8","#5abeeb","#ee1111","#2e8b57"]},
"legend":{"orient":"none","legendX":1079,"legendY":89,"title":null,"direction":"vertical","symbolType":"stroke","symbolSize":961,"symbolStrokeWidth":4,"labelFont":"Open Sans","labelFontSize":30,"labelFontWeight":"bold","labelAlign":"right","labelOffset":247,"labelLimit":500,"rowPadding":63,"padding":0,
"labelColor":{"expr":"datum.label === 'framerate' ? '#f07d1a' : datum.label === 'GPU Load' ? '#b800c0' : datum.label === 'CPU Load' ? '#1ab8e8' : datum.label === 'GPU Power/TDP' ? '#d40000' : '#2e8b57'"}}}}},
{"data":{"name":"pw"},
"mark":{"type":"line","clip":true,"strokeWidth":2},
"encoding":{
"x":{"field":"t","type":"quantitative","scale":{"domain":[0,960],"nice":false,"zero":false},"axis":null},
"y":{"field":"v","type":"quantitative","scale":{"domain":[0,650],"nice":false,"zero":false},
"axis":{"orient":"right","values":[0,20,40,60,80,100,120,140,160,180,200,220,240,260,280,300,320,340,360,380,400,420,440,460,480,500,520,540,560,580,600,620,640],"labels":false,"tickSize":10,"tickWidth":3.5,"tickColor":"#a6a6a6","domain":false,"grid":false,"title":"PC power [W],","titleColor":"#2e8b57","titleFont":"Open Sans","titleFontSize":36,"titleFontWeight":"bold","titleAngle":-90,"titleAlign":"left","titleBaseline":"alphabetic","titleX":27,"titleY":552}},
"color":{"datum":"PC power","type":"nominal"}}},
{"data":{"name":"fps"},
"mark":{"type":"line","clip":true,"strokeWidth":2.2},
"encoding":{
"x":{"field":"t","type":"quantitative","scale":{"domain":[0,960],"nice":false,"zero":false},"axis":null},
"y":{"field":"v","type":"quantitative","scale":{"domain":[0,650],"nice":false,"zero":false},
"axis":{"orient":"right","labels":false,"ticks":false,"domain":false,"grid":false,"title":"Framerate [fps],","titleColor":"#f59a1b","titleFont":"Open Sans","titleFontSize":36,"titleFontWeight":"bold","titleAngle":-90,"titleAlign":"left","titleBaseline":"alphabetic","titleX":27,"titleY":843}},
"color":{"datum":"framerate","type":"nominal"}}},
{"data":{"name":"gw"},
"mark":{"type":"line","clip":true,"strokeWidth":2},
"encoding":{
"x":{"field":"t","type":"quantitative","scale":{"domain":[0,960],"nice":false,"zero":false},"axis":null},
"y":{"field":"v","type":"quantitative","scale":{"domain":[0,650],"nice":false,"zero":false},
"axis":{"orient":"right","values":[0,100,200,300,400,500,600],"labelFont":"Open Sans","labelFontSize":33,"labelFontWeight":"bold","labelColor":"#7f7f7f","labelPadding":41,"labelFlush":false,"ticks":false,"domainColor":"#a6a6a6","domainWidth":4,"grid":false,"title":"GPU Power [W]","titleColor":"#ff4a12","titleFont":"Open Sans","titleFontSize":36,"titleFontWeight":"bold","titleAngle":-90,"titleAlign":"left","titleBaseline":"alphabetic","titleX":27,"titleY":288}},
"color":{"datum":"GPU Power/TDP","type":"nominal"}}},
{"data":{"name":"gpu"},
"mark":{"type":"line","clip":true,"strokeWidth":2},
"encoding":{
"x":{"field":"t","type":"quantitative","scale":{"domain":[0,960],"nice":false,"zero":false},
"axis":{"orient":"bottom","values":[0,120,240,360,480,600,720,840,960],"labelAngle":-90,"labelFont":"Open Sans","labelFontSize":28,"labelColor":"#8c8c8c","labelPadding":13,"labelFlush":false,"labelOverlap":false,"tickSize":9,"tickWidth":4,"tickColor":"#a6a6a6","domainColor":"#a6a6a6","domainWidth":5,"grid":true,"gridColor":"#d9d9d9","gridWidth":2,
"title":"čas [s]","titleFont":"Open Sans","titleFontSize":34,"titleFontWeight":"normal","titleColor":"#8c8c8c","titleAnchor":"end","titleAlign":"right","titleBaseline":"alphabetic","titleAngle":0,"titleX":1369,"titleY":11}},
"y":{"field":"v","type":"quantitative","scale":{"domain":[0,130],"nice":false,"zero":false},
"axis":{"orient":"left","values":[0,10,20,30,40,50,60,70,80,90,100,110,120,130],"labelFont":"Open Sans","labelFontSize":33,"labelFontWeight":"bold","labelColor":"#7f7f7f","labelPadding":24,"labelFlush":false,"tickSize":13,"tickWidth":4,"tickColor":"#a6a6a6","domainColor":"#a6a6a6","domainWidth":5,"grid":true,"gridColor":"#d9d9d9","gridWidth":2,
"title":"GPU Load,","titleColor":"#c000c0","titleFont":"Open Sans","titleFontSize":38,"titleFontWeight":"bold","titleAngle":-90,"titleAlign":"left","titleBaseline":"alphabetic","titleX":-2,"titleY":493}},
"color":{"datum":"GPU Load","type":"nominal"}}},
{"data":{"name":"logo"},
"transform":[{"filter":"datum.part === 'pc'"}],
"mark":{"type":"text","angle":270,"align":"left","baseline":"alphabetic","font":"Open Sans","fontSize":64,"fontWeight":600,"color":"#f0905a","opacity":0.9},
"encoding":{
"x":{"datum":961,"type":"quantitative","scale":{"domain":[0,960],"nice":false,"zero":false},"axis":null},
"y":{"datum":2.8,"type":"quantitative","scale":{"domain":[0,130],"nice":false,"zero":false},"axis":null},
"text":{"field":"part"}}},
{"data":{"name":"logo"},
"transform":[{"filter":"datum.part === 'tuning'"}],
"mark":{"type":"text","angle":270,"align":"left","baseline":"alphabetic","font":"Open Sans","fontSize":64,"fontWeight":600,"color":"#3b78c4","opacity":0.9},
"encoding":{
"x":{"datum":961,"type":"quantitative","scale":{"domain":[0,960],"nice":false,"zero":false},"axis":null},
"y":{"datum":11.6,"type":"quantitative","scale":{"domain":[0,130],"nice":false,"zero":false},"axis":null},
"text":{"field":"part"}}}
]
}
